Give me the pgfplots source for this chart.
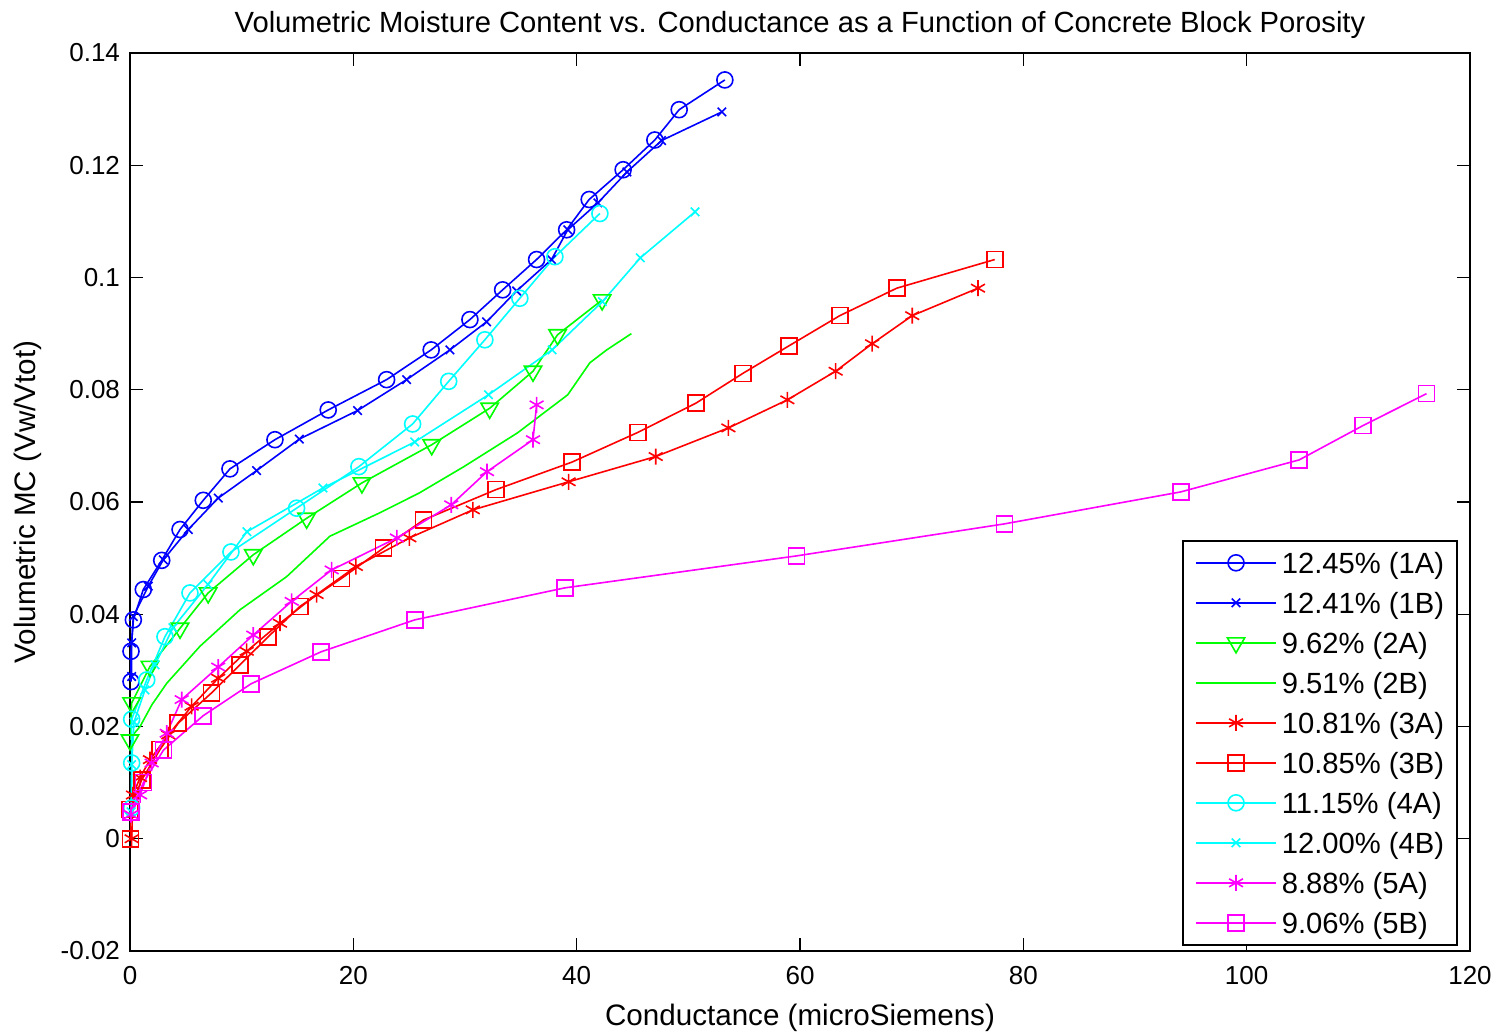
\documentclass[border=0pt]{standalone}
\usepackage{pgfplots}
\pgfplotsset{compat=1.18}
\usepackage{fontspec}
\setmainfont{Liberation Sans}
\definecolor{mblue}{rgb}{0,0,1}
\definecolor{mgreen}{rgb}{0,1,0}
\definecolor{mred}{rgb}{1,0,0}
\definecolor{mcyan}{rgb}{0,1,1}
\definecolor{mmagenta}{rgb}{1,0,1}
\begin{document}
\begin{tikzpicture}
\begin{axis}[
  scale only axis, width=670pt, height=449pt,
  xmin=0, xmax=120, ymin=-0.02, ymax=0.14,
  xtick={0,20,40,60,80,100,120},
  ytick={-0.02,0,0.02,0.04,0.06,0.08,0.1,0.12,0.14},
  yticklabels={-0.02,0,0.02,0.04,0.06,0.08,0.1,0.12,0.14},
  /pgf/number format/assume math mode=true,
  tick align=inside, major tick length=6.7pt,
  tick style={black, line width=0.6pt},
  axis line style={black, line width=0.9pt},
  tick label style={font=\fontsize{13}{15}\selectfont},
  xticklabel style={yshift=-4pt},
  yticklabel style={xshift=-1.5pt},
  title={Volumetric Moisture Content vs. Conductance as a Function of Concrete Block Porosity},
  title style={font=\fontsize{14.6}{17}\selectfont, at={(axis description cs:0.5,1.0089)}, anchor=south, inner sep=0pt, text depth=0pt},
  xlabel={Conductance (microSiemens)},
  xlabel style={font=\fontsize{14.8}{17}\selectfont, at={(axis description cs:0.5,-0.0835)}, anchor=base},
  ylabel={Volumetric MC (Vw/Vtot)},
  ylabel style={font=\fontsize{14.8}{17}\selectfont, at={(axis description cs:-0.0761,0.5)}, anchor=center},
  every axis plot/.append style={line width=0.8pt},
  legend cell align=left,
  legend image code/.code={\draw[mark repeat=2,mark phase=2,#1] plot coordinates {(0pt,0pt) (20pt,0pt) (40pt,0pt)};},
  legend style={font=\fontsize{14.6}{17}\selectfont, at={(axis description cs:0.991,0.0060)}, anchor=south east,
    draw=black, line width=0.8pt, fill=white, inner xsep=6pt, inner ysep=4pt,
    row sep=6pt, nodes={inner sep=0.5pt, text height=12pt, text depth=1pt},
    /tikz/every odd column/.append style={column sep=2pt}},
]
% 1A
\addplot[mblue, mark=o, mark size=4pt] coordinates {
(0.09,0.0280) (0.09,0.0334) (0.30,0.0390) (1.19,0.0444) (2.84,0.0496) (4.48,0.0551)
(6.56,0.0603) (8.95,0.0659) (12.98,0.0711) (17.75,0.0764) (22.98,0.0818) (26.97,0.0871)
(30.44,0.0925) (33.37,0.0978) (36.41,0.1032) (39.10,0.1085) (41.12,0.1139) (44.16,0.1192)
(47.00,0.1245) (49.18,0.1299) (53.27,0.1352)};
\addlegendentry{12.45\% (1A)}
% 1B
\addplot[mblue, mark=x, mark size=3pt] coordinates {
(0.15,0.0289) (0.15,0.0349) (0.30,0.0396) (1.64,0.0450) (2.98,0.0497) (5.22,0.0551)
(7.90,0.0607) (11.34,0.0656) (15.16,0.0712) (20.38,0.0763) (24.77,0.0818) (28.65,0.0871)
(31.93,0.0921) (34.62,0.0976) (37.75,0.1032) (39.20,0.1085) (41.90,0.1133) (44.50,0.1188)
(47.60,0.1244) (53.00,0.1295)};
\addlegendentry{12.41\% (1B)}
% 2A
\addplot[mgreen, mark=triangle, mark size=5pt, mark options={rotate=180, solid}] coordinates {
(0.00,0.0176) (0.15,0.0242) (1.79,0.0307) (4.48,0.0375) (7.00,0.0438) (11.04,0.0506)
(15.82,0.0571) (20.77,0.0634) (27.02,0.0702) (32.21,0.0767) (36.09,0.0833) (38.29,0.0898)
(42.28,0.0960)};
\addlegendentry{9.62\% (2A)}
% 2B
\addplot[mgreen, no marks] coordinates {
(0.06,0.0162) (0.27,0.0185) (0.90,0.0200) (1.97,0.0239) (3.29,0.0277) (6.27,0.0343)
(9.85,0.0408) (14.03,0.0467) (17.90,0.0539) (22.29,0.0580) (25.90,0.0616) (29.90,0.0663)
(34.69,0.0723) (39.20,0.0791) (41.18,0.0848) (42.69,0.0871) (44.90,0.0900)};
\addlegendentry{9.51\% (2B)}
% 3A
\addplot[mred, mark=asterisk, mark size=4pt] coordinates {
(0.15,0.0000) (0.27,0.0078) (0.90,0.0109) (1.79,0.0141) (3.43,0.0185) (5.52,0.0236)
(7.90,0.0286) (10.45,0.0334) (13.43,0.0384) (16.71,0.0435) (20.23,0.0485) (25.02,0.0536)
(30.70,0.0586) (39.28,0.0636) (47.08,0.0681) (53.59,0.0732) (58.87,0.0782) (63.19,0.0833)
(66.46,0.0882) (70.05,0.0932) (75.94,0.0981)};
\addlegendentry{10.81\% (3A)}
% 3B
\addplot[mred, mark=square, mark size=4pt] coordinates {
(0.05,0.0000) (0.00,0.0052) (1.05,0.0105) (2.69,0.0159) (4.32,0.0206) (7.31,0.0260)
(9.85,0.0310) (12.38,0.0360) (15.22,0.0414) (18.95,0.0464) (22.70,0.0518) (26.29,0.0568)
(32.77,0.0622) (39.57,0.0671) (45.48,0.0724) (50.67,0.0776) (54.87,0.0829) (58.99,0.0878)
(63.56,0.0932) (68.67,0.0981) (77.44,0.1032)};
\addlegendentry{10.85\% (3B)}
% 4A
\addplot[mcyan, mark=o, mark size=4pt] coordinates {
(0.15,0.0055) (0.15,0.0135) (0.15,0.0213) (1.50,0.0283) (3.13,0.0360) (5.37,0.0438)
(9.04,0.0511) (14.92,0.0589) (20.50,0.0663) (25.31,0.0739) (28.54,0.0815) (31.78,0.0889)
(34.91,0.0963) (38.05,0.1037) (42.08,0.1114)};
\addlegendentry{11.15\% (4A)}
% 4B
\addplot[mcyan, mark=x, mark size=3pt] coordinates {
(0.10,0.0048) (0.15,0.0132) (0.36,0.0208) (1.34,0.0265) (2.24,0.0310) (3.85,0.0376)
(6.98,0.0453) (10.47,0.0547) (17.28,0.0625) (25.50,0.0707) (32.10,0.0791) (37.80,0.0871)
(42.30,0.0957) (45.70,0.1035) (50.60,0.1117)};
\addlegendentry{12.00\% (4B)}
% 5A
\addplot[mmagenta, mark=asterisk, mark size=4pt] coordinates {
(0.09,0.0043) (0.90,0.0078) (1.94,0.0135) (3.29,0.0188) (4.63,0.0248) (7.90,0.0306)
(11.04,0.0363) (14.48,0.0423) (18.06,0.0479) (23.90,0.0536) (28.77,0.0595) (31.97,0.0654)
(36.09,0.0711) (36.41,0.0773)};
\addlegendentry{8.88\% (5A)}
% 5B
\addplot[mmagenta, mark=square, mark size=4pt] coordinates {
(0.10,0.0048) (1.20,0.0100) (3.00,0.0158) (6.54,0.0219) (10.83,0.0276) (17.10,0.0333)
(25.50,0.0390) (38.94,0.0447) (59.70,0.0504) (78.30,0.0561) (94.10,0.0618) (104.70,0.0675)
(110.40,0.0736) (116.10,0.0793)};
\addlegendentry{9.06\% (5B)}
\end{axis}
\pgfresetboundingbox
\path (current axis.south west) ++(-65pt,-41.5pt) rectangle ([shift={(16.5pt,26.5pt)}]current axis.north east);
\end{tikzpicture}
\end{document}
